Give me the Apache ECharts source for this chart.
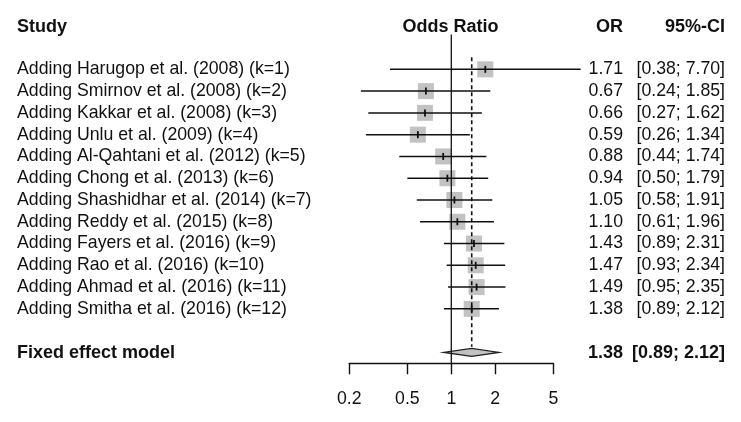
<!DOCTYPE html>
<html>
<head>
<meta charset="utf-8">
<script src="https://cdn.jsdelivr.net/npm/echarts@6/dist/echarts.min.js"></script>
<style>
html,body{margin:0;padding:0;background:#fff;}
#chart{width:741px;height:422px;}
</style>
</head>
<body>
<div id="chart"></div>
<script>
var studies = [
  'Adding Harugop et al. (2008) (k=1)',
  'Adding Smirnov et al. (2008) (k=2)',
  'Adding Kakkar et al. (2008) (k=3)',
  'Adding Unlu et al. (2009) (k=4)',
  'Adding Al-Qahtani et al. (2012) (k=5)',
  'Adding Chong et al. (2013) (k=6)',
  'Adding Shashidhar et al. (2014) (k=7)',
  'Adding Reddy et al. (2015) (k=8)',
  'Adding Fayers et al. (2016) (k=9)',
  'Adding Rao et al. (2016) (k=10)',
  'Adding Ahmad et al. (2016) (k=11)',
  'Adding Smitha et al. (2016) (k=12)'
];
var orValues = [1.71, 0.67, 0.66, 0.59, 0.88, 0.94, 1.05, 1.10, 1.43, 1.47, 1.49, 1.38];
var ciLower  = [0.38, 0.24, 0.27, 0.26, 0.44, 0.50, 0.58, 0.61, 0.89, 0.93, 0.95, 0.89];
var ciUpper  = [7.70, 1.85, 1.62, 1.34, 1.74, 1.79, 1.91, 1.96, 2.31, 2.34, 2.35, 2.12];
var pooledLabel = 'Fixed effect model';
var pooledOR = 1.38;
var pooledLower = 0.89;
var pooledUpper = 2.12;
var tickValues = [0.2, 0.5, 1, 2, 5];
var headers = { study: 'Study', effect: 'Odds Ratio', or: 'OR', ci: '95%-CI' };

var FONT = '17.7px "Liberation Sans", Arial, sans-serif';
var BFONT = 'bold 18px "Liberation Sans", Arial, sans-serif';
var TXT = '#111';
var X_LABEL = 17, X_OR = 623, X_CI = 725;
var lg = function (v) { return Math.log10(v); };
var fmt = function (v) { return v.toFixed(2); };

var studyData = studies.map(function (s, i) {
  return [lg(orValues[i]), i, lg(ciLower[i]), lg(ciUpper[i])];
});
var pooledRow = studies.length + 1;

var chart = echarts.init(document.getElementById('chart'), null, {renderer: 'canvas'});
chart.setOption({
  animation: false,
  backgroundColor: '#fff',
  grid: { left: 349.3, right: 187.7, top: 34.5, bottom: 58.7, containLabel: false },
  xAxis: {
    type: 'value',
    min: lg(tickValues[0]),
    max: lg(tickValues[tickValues.length - 1]),
    splitLine: { show: false },
    axisLine: { show: true, onZero: false, lineStyle: { color: '#111', width: 1.4 } },
    axisTick: { show: true, length: 11, customValues: tickValues.map(lg), lineStyle: { color: '#111', width: 1.4 } },
    axisLabel: {
      customValues: tickValues.map(lg),
      margin: 27,
      color: TXT,
      fontSize: 17.7,
      fontFamily: '"Liberation Sans", Arial, sans-serif',
      formatter: function (v) { return String(Math.round(Math.pow(10, v) * 10) / 10); }
    }
  },
  yAxis: { type: 'value', inverse: true, min: -1.6, max: 13.5, show: false },
  graphic: [
    { type: 'text', left: X_LABEL, top: 18, style: { text: headers.study, font: BFONT, fill: TXT } },
    { type: 'text', x: 450.5, y: 27, style: { text: headers.effect, font: BFONT, fill: TXT, textAlign: 'center', textVerticalAlign: 'middle' } },
    { type: 'text', x: X_OR, y: 27, style: { text: headers.or, font: BFONT, fill: TXT, textAlign: 'right', textVerticalAlign: 'middle' } },
    { type: 'text', x: X_CI, y: 27, style: { text: headers.ci, font: BFONT, fill: TXT, textAlign: 'right', textVerticalAlign: 'middle' } }
  ],
  series: [
    {
      type: 'line', clip: false, symbol: 'none', silent: true,
      data: [[0, -1.6], [0, 13.5]],
      lineStyle: { color: '#111', width: 1.3 }
    },
    {
      type: 'line', clip: false, symbol: 'none', silent: true,
      data: [[lg(pooledOR), -0.56], [lg(pooledOR), 12.74]],
      lineStyle: { color: '#111', width: 1.6, type: [4, 3] }
    },
    {
      type: 'custom', clip: false, silent: true,
      data: studyData,
      renderItem: function (params, api) {
        var i = params.dataIndex;
        var row = api.value(1);
        var c = api.coord([api.value(0), row]);
        var lo = api.coord([api.value(2), row]);
        var hi = api.coord([api.value(3), row]);
        var y = c[1];
        var s = 16;
        return {
          type: 'group',
          children: [
            { type: 'rect', shape: { x: c[0] - s / 2, y: y - s / 2, width: s, height: s }, style: { fill: '#c2c2c2' } },
            { type: 'line', shape: { x1: lo[0], y1: y, x2: hi[0], y2: y }, style: { stroke: '#111', lineWidth: 1.5 } },
            { type: 'line', shape: { x1: c[0], y1: y - 3.5, x2: c[0], y2: y + 3.5 }, style: { stroke: '#111', lineWidth: 1.8 } },
            { type: 'text', style: { text: studies[i], x: X_LABEL, y: y, font: FONT, fill: TXT, textAlign: 'left', textVerticalAlign: 'middle' } },
            { type: 'text', style: { text: fmt(orValues[i]), x: X_OR, y: y, font: FONT, fill: TXT, textAlign: 'right', textVerticalAlign: 'middle' } },
            { type: 'text', style: { text: '[' + fmt(ciLower[i]) + '; ' + fmt(ciUpper[i]) + ']', x: X_CI, y: y, font: FONT, fill: TXT, textAlign: 'right', textVerticalAlign: 'middle' } }
          ]
        };
      }
    },
    {
      type: 'custom', clip: false, silent: true,
      data: [[lg(pooledOR), pooledRow, lg(pooledLower), lg(pooledUpper)]],
      renderItem: function (params, api) {
        var row = api.value(1);
        var c = api.coord([api.value(0), row]);
        var lo = api.coord([api.value(2), row]);
        var hi = api.coord([api.value(3), row]);
        var y = c[1];
        var h = 4;
        return {
          type: 'group',
          children: [
            { type: 'polygon', shape: { points: [[lo[0], y], [c[0], y - h], [hi[0], y], [c[0], y + h]] }, style: { fill: '#c2c2c2', stroke: '#222', lineWidth: 1.3 } },
            { type: 'text', style: { text: pooledLabel, x: X_LABEL, y: y + 1, font: BFONT, fill: TXT, textAlign: 'left', textVerticalAlign: 'middle' } },
            { type: 'text', style: { text: fmt(pooledOR), x: X_OR, y: y + 1, font: BFONT, fill: TXT, textAlign: 'right', textVerticalAlign: 'middle' } },
            { type: 'text', style: { text: '[' + fmt(pooledLower) + '; ' + fmt(pooledUpper) + ']', x: X_CI, y: y + 1, font: BFONT, fill: TXT, textAlign: 'right', textVerticalAlign: 'middle' } }
          ]
        };
      }
    }
  ]
});
</script>
</body>
</html>
